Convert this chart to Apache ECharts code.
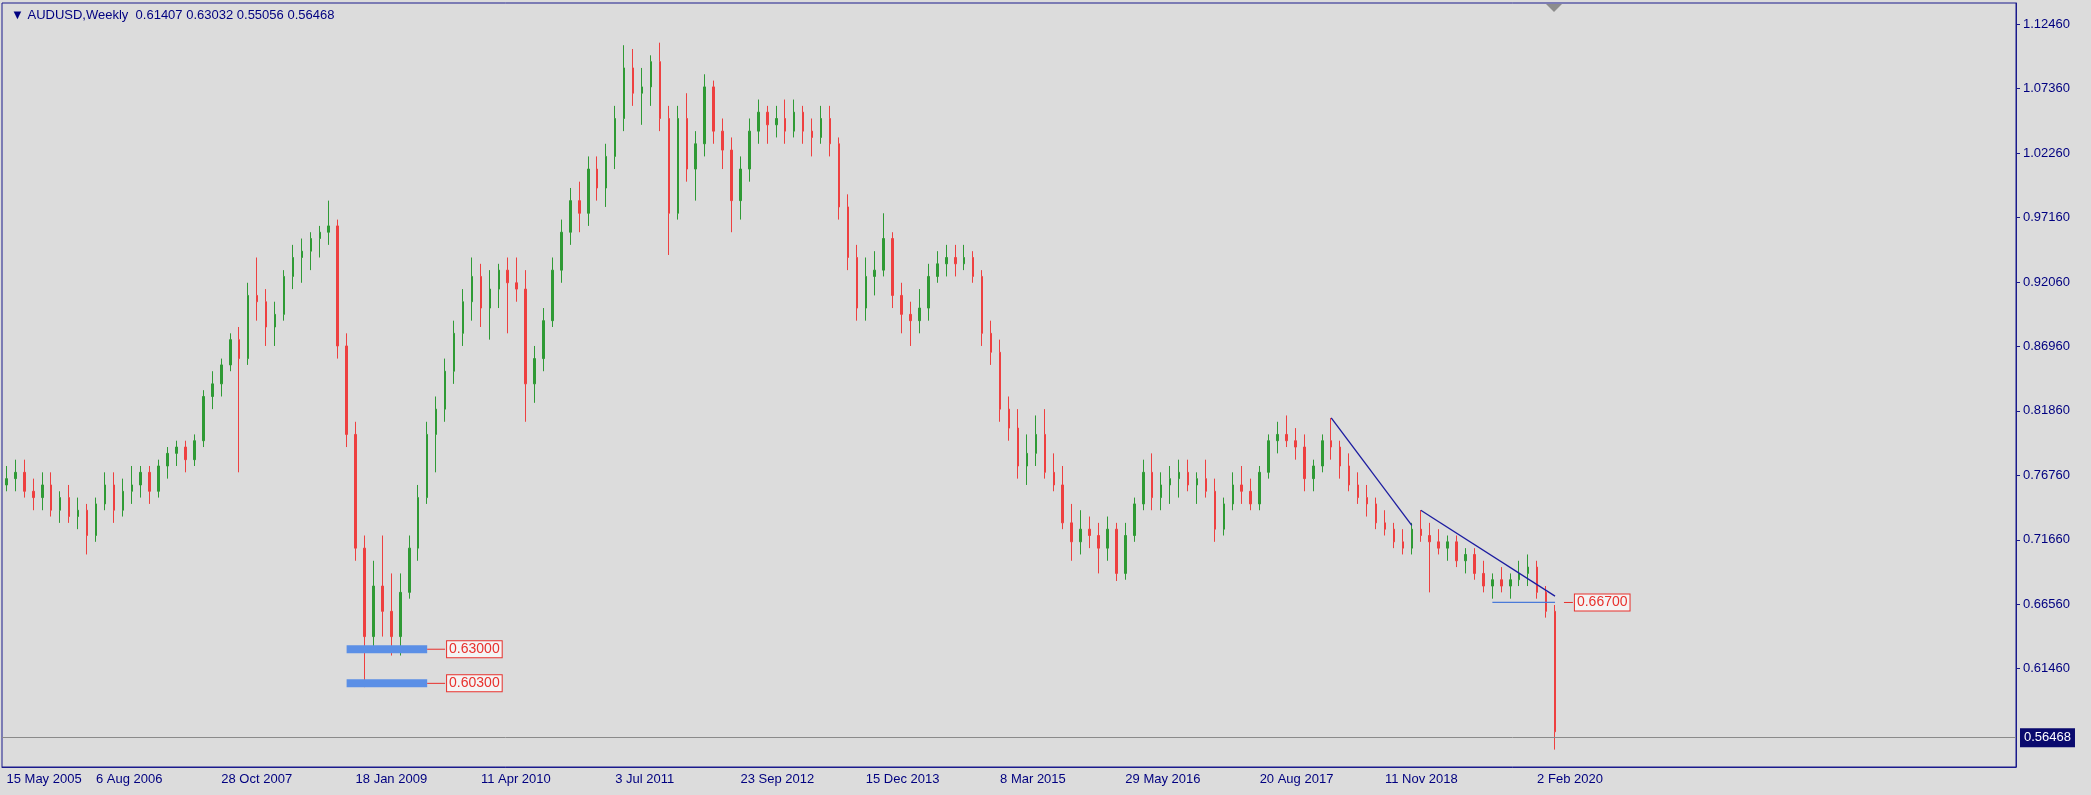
<!DOCTYPE html>
<html><head><meta charset="utf-8">
<script src="https://cdn.jsdelivr.net/npm/echarts@6/dist/echarts.min.js"></script>
<style>html,body{margin:0;padding:0;background:#dcdcdc}#c{width:2091px;height:795px}</style>
</head><body><div id="c"></div>
<script>
// monthly candles [open, close, low, high]
const ohlc = [
[0.76,0.765,0.755,0.775],[0.765,0.77,0.755,0.78],[0.77,0.755,0.75,0.78],[0.755,0.75,0.74,0.765],[0.75,0.76,0.74,0.77],
[0.76,0.74,0.735,0.77],[0.74,0.75,0.73,0.755],[0.75,0.735,0.73,0.76],[0.735,0.74,0.725,0.75],[0.74,0.72,0.705,0.745],
[0.72,0.745,0.715,0.75],[0.745,0.76,0.74,0.77],[0.76,0.74,0.73,0.77],[0.74,0.755,0.735,0.765],[0.755,0.76,0.745,0.775],
[0.76,0.77,0.75,0.775],[0.77,0.755,0.745,0.775],[0.755,0.775,0.75,0.78],[0.775,0.785,0.765,0.79],[0.785,0.79,0.775,0.795],
[0.79,0.78,0.77,0.795],[0.78,0.795,0.775,0.8],[0.795,0.83,0.79,0.835],[0.83,0.84,0.82,0.85],[0.84,0.855,0.83,0.86],
[0.855,0.875,0.85,0.88],[0.875,0.86,0.77,0.885],[0.86,0.91,0.855,0.92],[0.91,0.905,0.89,0.94],[0.905,0.885,0.87,0.915],
[0.885,0.895,0.87,0.905],[0.895,0.925,0.89,0.93],[0.925,0.94,0.915,0.95],[0.94,0.945,0.92,0.955],[0.945,0.955,0.93,0.96],
[0.955,0.96,0.94,0.965],[0.96,0.965,0.95,0.985],[0.965,0.87,0.86,0.97],[0.87,0.8,0.79,0.88],[0.8,0.71,0.7,0.81],
[0.71,0.64,0.6,0.72],[0.64,0.68,0.63,0.7],[0.68,0.66,0.64,0.72],[0.66,0.64,0.625,0.69],[0.64,0.675,0.625,0.69],
[0.675,0.71,0.67,0.72],[0.71,0.75,0.7,0.76],[0.75,0.8,0.745,0.81],[0.8,0.82,0.77,0.83],[0.82,0.85,0.81,0.86],
[0.85,0.88,0.84,0.89],[0.88,0.905,0.87,0.915],[0.905,0.925,0.89,0.94],[0.925,0.9,0.885,0.935],[0.9,0.915,0.875,0.93],
[0.915,0.93,0.9,0.935],[0.93,0.92,0.88,0.94],[0.92,0.915,0.905,0.94],[0.915,0.84,0.81,0.93],[0.84,0.86,0.825,0.87],
[0.86,0.89,0.85,0.9],[0.89,0.93,0.885,0.94],[0.93,0.96,0.92,0.97],[0.96,0.985,0.95,0.995],[0.985,0.975,0.96,1.0],
[0.975,1.01,0.965,1.02],[1.01,0.995,0.985,1.02],[0.995,1.02,0.98,1.03],[1.02,1.05,1.01,1.06],[1.05,1.09,1.04,1.108],
[1.09,1.07,1.06,1.105],[1.07,1.075,1.045,1.09],[1.075,1.095,1.06,1.1],[1.095,1.05,1.04,1.11],[1.05,0.975,0.942,1.06],
[0.975,1.05,0.97,1.06],[1.05,1.01,1.0,1.07],[1.01,1.03,0.985,1.04],[1.03,1.075,1.02,1.085],[1.075,1.04,1.03,1.08],
[1.04,1.025,1.01,1.05],[1.025,0.985,0.96,1.035],[0.985,1.01,0.97,1.02],[1.01,1.04,1.0,1.05],[1.04,1.055,1.03,1.065],
[1.055,1.045,1.03,1.06],[1.045,1.05,1.035,1.06],[1.05,1.04,1.03,1.065],[1.04,1.055,1.035,1.065],[1.055,1.04,1.03,1.06],
[1.04,1.035,1.02,1.05],[1.035,1.05,1.03,1.06],[1.05,1.03,1.02,1.06],[1.03,0.98,0.97,1.035],[0.98,0.94,0.93,0.99],
[0.94,0.9,0.89,0.95],[0.9,0.925,0.89,0.94],[0.925,0.93,0.91,0.945],[0.93,0.955,0.925,0.975],[0.955,0.91,0.9,0.96],
[0.91,0.895,0.88,0.92],[0.895,0.89,0.87,0.905],[0.89,0.9,0.88,0.915],[0.9,0.925,0.89,0.935],[0.925,0.935,0.92,0.945],
[0.935,0.94,0.925,0.95],[0.94,0.935,0.925,0.95],[0.935,0.94,0.93,0.95],[0.94,0.925,0.92,0.945],[0.925,0.88,0.87,0.93],
[0.88,0.865,0.855,0.89],[0.865,0.82,0.81,0.875],[0.82,0.805,0.795,0.83],[0.805,0.775,0.765,0.82],[0.775,0.785,0.76,0.8],
[0.785,0.8,0.775,0.815],[0.8,0.77,0.765,0.82],[0.77,0.76,0.755,0.785],[0.76,0.73,0.725,0.775],[0.73,0.715,0.7,0.745],
[0.715,0.725,0.705,0.74],[0.725,0.72,0.71,0.735],[0.72,0.71,0.69,0.73],[0.71,0.725,0.7,0.735],[0.725,0.69,0.684,0.73],
[0.69,0.72,0.685,0.73],[0.72,0.745,0.715,0.75],[0.745,0.77,0.74,0.78],[0.77,0.75,0.74,0.785],[0.75,0.76,0.74,0.77],
[0.76,0.765,0.745,0.775],[0.765,0.77,0.75,0.78],[0.77,0.76,0.755,0.78],[0.76,0.765,0.745,0.77],[0.765,0.755,0.75,0.78],
[0.755,0.725,0.715,0.765],[0.725,0.745,0.72,0.75],[0.745,0.76,0.74,0.77],[0.76,0.755,0.745,0.775],[0.755,0.745,0.74,0.765],
[0.745,0.77,0.74,0.775],[0.77,0.795,0.765,0.8],[0.795,0.8,0.785,0.81],[0.8,0.795,0.79,0.815],[0.795,0.79,0.78,0.805],
[0.79,0.765,0.755,0.8],[0.765,0.775,0.755,0.78],[0.775,0.795,0.77,0.8],[0.795,0.79,0.78,0.813],[0.79,0.775,0.765,0.795],
[0.775,0.76,0.755,0.785],[0.76,0.75,0.745,0.77],[0.75,0.745,0.735,0.76],[0.745,0.73,0.725,0.75],[0.73,0.725,0.72,0.74],
[0.725,0.715,0.71,0.73],[0.715,0.71,0.705,0.725],[0.71,0.725,0.705,0.73],[0.725,0.72,0.715,0.74],[0.72,0.715,0.675,0.73],
[0.715,0.71,0.705,0.725],[0.71,0.715,0.7,0.72],[0.715,0.7,0.695,0.72],[0.7,0.705,0.69,0.71],[0.705,0.69,0.685,0.71],
[0.69,0.68,0.675,0.7],[0.68,0.685,0.67,0.69],[0.685,0.68,0.675,0.695],[0.68,0.685,0.67,0.69],[0.685,0.69,0.68,0.7],
[0.69,0.695,0.68,0.705],[0.695,0.675,0.67,0.7],[0.675,0.66,0.655,0.68],[0.66,0.56468,0.55056,0.665]
];
const totalSlots = 225;
const xLabels = {0:'15 May 2005',10:'6 Aug 2006',24:'28 Oct 2007',39:'18 Jan 2009',53:'11 Apr 2010',68:'3 Jul 2011',
  82:'23 Sep 2012',96:'15 Dec 2013',111:'8 Mar 2015',125:'29 May 2016',140:'20 Aug 2017',154:'11 Nov 2018',171:'2 Feb 2020'};
const yTicks = [0.6146,0.6656,0.7166,0.7676,0.8186,0.8696,0.9206,0.9716,1.0226,1.0736,1.1246];
const lastPrice = 0.56468;
const levels = [{v:0.63,from:38,to:47,label:'0.63000'},{v:0.603,from:38,to:47,label:'0.60300'}];
const trend1 = [[148,0.813],[157,0.728]];
const trend2 = [[158,0.74],[173.3,0.672]];
const flatLine = [[165.5,0.667],[173.3,0.667]];
const levelLabel = {v:0.667,label:'0.66700',at:174.5};

const cats = []; for (let i=0;i<totalSlots;i++) cats.push(String(i));
const navy = '#000080', red='#e8302c';
const boxLabel = (txt)=>({show:true,formatter:txt,color:red,borderColor:red,borderWidth:1,backgroundColor:'#f4f4f4',padding:[1,2],fontSize:14,fontFamily:'Liberation Sans',distance:2});
const series = [{
  type:'candlestick', data:ohlc, barWidth:2,
  itemStyle:{color:'#2f9a35',color0:'#ee4040',borderColor:'#2f9a35',borderColor0:'#ee4040',borderWidth:1},
  markLine:{symbol:'none',silent:true,data:[{yAxis:lastPrice}],lineStyle:{color:'#8a8a8a',type:'solid',width:1},
    label:{position:'end',formatter:lastPrice.toFixed(5),color:'#fff',backgroundColor:'#0a0a6e',padding:[3,4],fontSize:13,fontFamily:'Liberation Sans',distance:4}}
}];
levels.forEach(l=>{
  series.push({type:'line',data:[[l.from,l.v],[l.to,l.v]],symbol:'none',lineStyle:{color:'#5b8fe6',width:8},silent:true});
  series.push({type:'line',data:[[l.to,l.v],[l.to+1.5,l.v]],symbol:'none',lineStyle:{color:red,width:1},silent:true,endLabel:boxLabel(l.label)});
});
series.push({type:'line',data:trend1,symbol:'none',lineStyle:{color:'#1c1ca0',width:1.3},silent:true});
series.push({type:'line',data:trend2,symbol:'none',lineStyle:{color:'#1c1ca0',width:1.3},silent:true});
series.push({type:'line',data:flatLine,symbol:'none',lineStyle:{color:'#4a7ad8',width:1.2},silent:true});
series.push({type:'line',data:[[levelLabel.at-0.8,levelLabel.v],[levelLabel.at,levelLabel.v]],symbol:'none',lineStyle:{color:red,width:1},silent:true,endLabel:boxLabel(levelLabel.label)});

const chart = echarts.init(document.getElementById('c'));
chart.setOption({
  backgroundColor:'#dcdcdc', animation:false,
  grid:{left:2,right:75,top:3,bottom:28,show:true,borderColor:'#1a1a8c',borderWidth:1,backgroundColor:'transparent'},
  title:{text:'\u25BC AUDUSD,Weekly  0.61407 0.63032 0.55056 0.56468',left:6,top:4,textStyle:{color:navy,fontSize:13,fontWeight:'normal',fontFamily:'Liberation Sans'}},
  xAxis:{type:'category',data:cats,boundaryGap:true,
    axisLine:{lineStyle:{color:'#1a1a8c'}},
    axisTick:{interval:(i)=>xLabels[i]!==undefined,lineStyle:{color:'#1a1a8c'},length:4},
    axisLabel:{interval:(i)=>xLabels[i]!==undefined,formatter:(v,i)=>xLabels[i]||'',color:navy,fontSize:13,fontFamily:'Liberation Sans',align:'left',margin:6},
    splitLine:{show:false}},
  yAxis:{type:'value',position:'right',min:0.5368,max:1.1414,scale:true,
    axisLine:{show:true,lineStyle:{color:'#1a1a8c'}},
    axisTick:{show:true,customValues:yTicks,length:4,lineStyle:{color:'#1a1a8c'}},
    axisLabel:{customValues:yTicks,formatter:(v)=>v.toFixed(5),color:navy,fontSize:13,fontFamily:'Liberation Sans',margin:7},
    splitLine:{show:false}},
  graphic:[{type:'polygon',shape:{points:[[1546,4],[1562,4],[1554,12]]},style:{fill:'#8c8c8c'}}],
  series
});
</script></body></html>
